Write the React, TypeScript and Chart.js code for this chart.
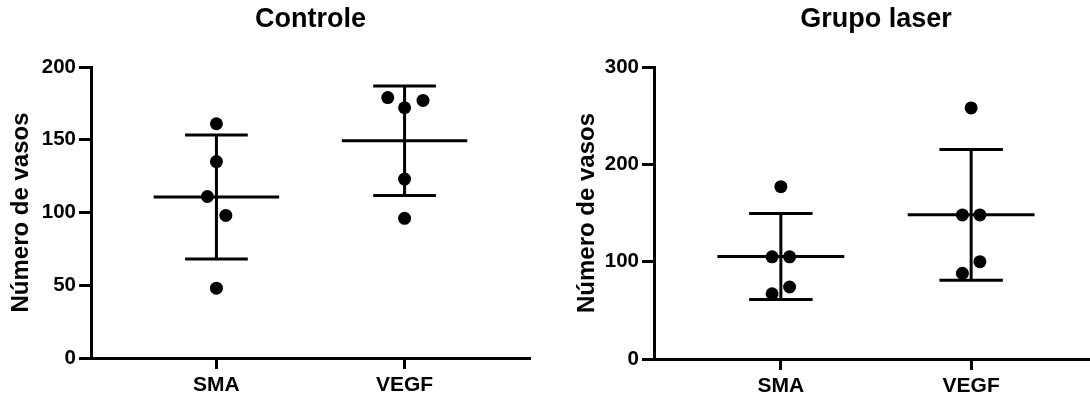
import React, { useEffect, useRef } from "react";
import { Chart, registerables } from "chart.js";

Chart.register(...registerables);

// ---- data ----
const categories = ["SMA", "VEGF"];
const categoryPositions = [1, 2.5];

// Controle
const controleSMA = [161, 135, 111, 98, 48];
const controleSMAJitter = [0, 0, -0.072, 0.075, 0];
const controleVEGF = [179, 172, 177, 123, 96];
const controleVEGFJitter = [-0.134, 0, 0.147, 0, 0];
const controleMean = [110.7, 149.3];
const controleSD = [42.6, 37.6];
const controleYTicks = [0, 50, 100, 150, 200];

// Grupo laser
const laserSMA = [177, 105, 105, 74, 67];
const laserSMAJitter = [0, -0.069, 0.069, 0.069, -0.069];
const laserVEGF = [258, 148, 148, 100, 88];
const laserVEGFJitter = [0, -0.069, 0.069, 0.069, -0.069];
const laserMean = [105.3, 148.1];
const laserSD = [44.2, 67.2];
const laserYTicks = [0, 100, 200, 300];

const FONT = "'Liberation Sans', Arial, Helvetica, sans-serif";

type PanelProps = {
  title: string;
  values: number[][];
  jitters: number[][];
  means: number[];
  sds: number[];
  yTicks: number[];
  width: number;
  left: number;
  axisWidth: number;
  xAxisHeight: number;
  padRight: number;
  yTitlePad: number;
};

function Panel(props: PanelProps) {
  const ref = useRef<HTMLCanvasElement | null>(null);
  useEffect(() => {
    if (!ref.current) return;
    const black = "#000";
    const datasets: any[] = [];
    const pts: { x: number; y: number }[] = [];
    props.values.forEach((vals, ci) => {
      vals.forEach((v, k) => {
        pts.push({ x: categoryPositions[ci] + props.jitters[ci][k], y: v });
      });
    });
    datasets.push({
      data: pts,
      showLine: false,
      pointRadius: 6.5,
      pointHoverRadius: 6.5,
      pointBackgroundColor: black,
      pointBorderWidth: 0,
      order: 0,
    });
    props.means.forEach((m, ci) => {
      const c = categoryPositions[ci];
      const s = props.sds[ci];
      const segs = [
        [{ x: c - 0.5, y: m }, { x: c + 0.5, y: m }],
        [{ x: c, y: m - s }, { x: c, y: m + s }],
        [{ x: c - 0.25, y: m + s }, { x: c + 0.25, y: m + s }],
        [{ x: c - 0.25, y: m - s }, { x: c + 0.25, y: m - s }],
      ];
      segs.forEach((seg) => {
        datasets.push({
          data: seg,
          showLine: true,
          borderColor: black,
          borderWidth: 3,
          pointRadius: 0,
          pointHoverRadius: 0,
          order: 1,
        });
      });
    });
    const yMax = props.yTicks[props.yTicks.length - 1];
    const chart = new Chart(ref.current, {
      type: "scatter",
      data: { datasets },
      options: {
        animation: false,
        responsive: false,
        events: [],
        layout: { padding: { left: 0, right: props.padRight, top: 0, bottom: 0 } },
        plugins: {
          legend: { display: false },
          tooltip: { enabled: false },
          title: {
            display: true,
            text: props.title,
            color: black,
            fullSize: false,
            font: { family: FONT, size: 27, weight: "bold", lineHeight: 1.2 },
            padding: { top: 3, bottom: 31.6 },
          },
        },
        scales: {
          x: {
            type: "linear",
            min: 0,
            max: 3.5,
            afterBuildTicks: (scale: any) => {
              scale.ticks = categoryPositions.map((v) => ({ value: v }));
            },
            afterFit: (scale: any) => {
              scale.height = props.xAxisHeight;
            },
            ticks: {
              color: black,
              font: { family: FONT, size: 21, weight: "bold" },
              padding: 4,
              maxRotation: 0,
              autoSkip: false,
              callback: (value: any) => {
                const i = categoryPositions.indexOf(Number(value));
                return i >= 0 ? categories[i] : "";
              },
            },
            grid: {
              drawOnChartArea: false,
              drawTicks: true,
              tickLength: 11,
              tickWidth: 3,
              tickColor: black,
            },
            border: { display: true, color: black, width: 3 },
          },
          y: {
            type: "linear",
            min: 0,
            max: yMax,
            afterBuildTicks: (scale: any) => {
              scale.ticks = props.yTicks.map((v) => ({ value: v }));
            },
            afterFit: (scale: any) => {
              scale.width = props.axisWidth;
            },
            ticks: {
              color: black,
              font: { family: FONT, size: 20.5, weight: "bold" },
              padding: 3,
            },
            grid: {
              drawOnChartArea: false,
              drawTicks: true,
              tickLength: 12,
              tickWidth: 3,
              tickColor: black,
            },
            border: { display: true, color: black, width: 3 },
            title: {
              display: true,
              text: "Número de vasos",
              color: black,
              font: { family: FONT, size: 24, weight: "bold", lineHeight: 1.2 },
              padding: { top: props.yTitlePad, bottom: 0 },
            },
          },
        },
      } as any,
    });
    return () => chart.destroy();
  }, []);
  return (
    <canvas
      ref={ref}
      width={props.width}
      height={398}
      style={{ position: "absolute", left: props.left, top: 0, width: props.width, height: 398 }}
    />
  );
}

export default function App() {
  return (
    <div
      style={{
        position: "fixed",
        left: 0,
        top: 0,
        width: 1090,
        height: 398,
        overflow: "hidden",
        background: "#fff",
      }}
    >
      <Panel
        title="Controle"
        values={[controleSMA, controleVEGF]}
        jitters={[controleSMAJitter, controleVEGFJitter]}
        means={controleMean}
        sds={controleSD}
        yTicks={controleYTicks}
        width={545}
        left={0}
        axisWidth={91}
        xAxisHeight={40}
        padRight={15}
        yTitlePad={7}
      />
      <Panel
        title="Grupo laser"
        values={[laserSMA, laserVEGF]}
        jitters={[laserSMAJitter, laserVEGFJitter]}
        means={laserMean}
        sds={laserSD}
        yTicks={laserYTicks}
        width={560}
        left={545}
        axisWidth={109}
        xAxisHeight={39}
        padRight={7}
        yTitlePad={28}
      />
    </div>
  );
}
